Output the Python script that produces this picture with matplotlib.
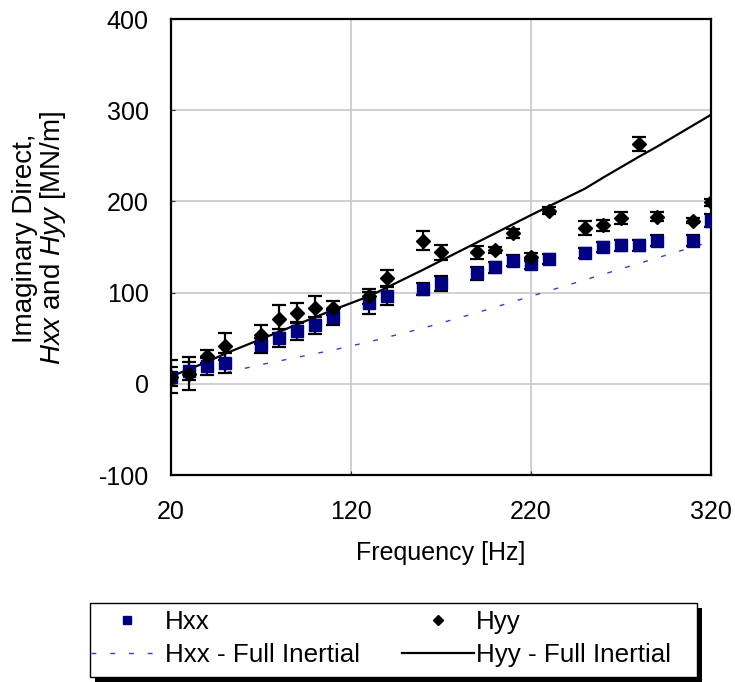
import matplotlib
matplotlib.use("Agg")
import matplotlib.pyplot as plt
from matplotlib.patches import Rectangle

plt.rcParams['font.family'] = ['Liberation Sans', 'DejaVu Sans']
plt.rcParams['mathtext.fontset'] = 'custom'
plt.rcParams['mathtext.rm'] = 'Liberation Sans'
plt.rcParams['mathtext.it'] = 'Liberation Sans:italic'
plt.rcParams['axes.unicode_minus'] = False

# Measured data
freq = [20, 30, 40, 50, 70, 80, 90, 100, 110, 130, 140, 160, 170, 190, 200,
        210, 220, 230, 250, 260, 270, 280, 290, 310, 320]
hxx = [8, 14, 19, 23, 42, 50, 58, 64, 73, 89, 96, 104, 110, 121, 128,
       135, 131, 137, 143, 150, 152, 152, 157, 157, 179]
hxx_err = [10, 10, 9, 11, 8, 10, 10, 9, 8, 12, 10, 7, 8, 7, 6,
           6, 5.5, 5.5, 5.5, 6, 6, 6, 6, 6, 7]
hyy = [8, 11, 30, 41, 54, 71, 78, 83, 83, 96, 116, 157, 144, 144, 147,
       165, 139, 190, 171, 174, 182, 263, 183, 179, 199]
hyy_err = [18, 18, 7, 15, 10, 15, 11, 13, 8, 8, 9, 10, 8, 7, 3.5,
           5, 4, 4, 8, 6, 6.5, 8, 5, 2.7, 4]

# Full inertial model curves
fi_freq = [20, 40, 50, 70, 80, 100, 110, 130, 160, 190, 220, 250, 260, 280, 290, 320]
hxx_fi = [3, 9, 12, 21, 25, 33, 37, 46, 61, 78, 96, 114, 120, 132, 138, 156]
hyy_fi = [8, 24, 33, 49, 57, 73, 81, 96, 125, 155, 185, 214, 226, 249, 260, 295]

xticks = [20, 120, 220, 320]
yticks = [-100, 0, 100, 200, 300, 400]

W, H = 735, 682
fig = plt.figure(figsize=(W/100, H/100), dpi=100)
ax = fig.add_axes([171/W, 1-475/H, (711-171)/W, (475-19)/H])

ax.plot(fi_freq, hxx_fi, linestyle=(0, (3.5, 10)), color='#3a3ad0', lw=1.0,
        label='Hxx - Full Inertial', zorder=2)
ax.plot(fi_freq, hyy_fi, color='black', lw=1.6, label='Hyy - Full Inertial', zorder=3)

ax.errorbar(freq, hxx, yerr=hxx_err, fmt='none', ecolor='black', elinewidth=1.6,
            capsize=4.7, capthick=1.6, zorder=4)
ax.errorbar(freq, hyy, yerr=hyy_err, fmt='none', ecolor='black', elinewidth=1.6,
            capsize=4.7, capthick=1.6, zorder=4)
ax.plot(freq, hxx, linestyle='none', marker='s', markersize=8, color='#000080',
        markeredgecolor='#000080', label='Hxx', zorder=5)
ax.plot(freq, hyy, linestyle='none', marker='D', markersize=7.5, color='black',
        label='Hyy', zorder=6)

ax.set_xlim(20, 320)
ax.set_ylim(-100, 400)
ax.set_xticks(xticks)
ax.set_yticks(yticks)
ax.tick_params(direction='in', length=3, labelsize=18, color='#333333')
ax.tick_params(axis='x', pad=18)
ax.tick_params(axis='y', pad=16)
ax.grid(True, color='#c8c8c8', lw=1.2)
ax.set_axisbelow(True)
for s in ax.spines.values():
    s.set_linewidth(1.6)
    s.set_color('black')

ax.set_xlabel('Frequency [Hz]', fontsize=18)
ax.xaxis.set_label_coords(0.5, -0.144)
ax.set_ylabel('Imaginary Direct,\n$\\mathit{Hxx}$ and $\\mathit{Hyy}$ [MN/m]',
              fontsize=20, linespacing=1.0)
ax.yaxis.set_label_coords(-0.19, 0.52)

# Legend: framed box drawn by hand (with solid offset shadow), entries placed inside
fx0, fx1, fy0, fy1 = 90, 697, 603, 677
fig.add_artist(Rectangle(((fx0 + 5)/W, 1 - (fy1 + 5)/H), (fx1 - fx0)/W, (fy1 - fy0)/H,
                         transform=fig.transFigure, facecolor='black',
                         edgecolor='none', zorder=8))
fig.add_artist(Rectangle((fx0/W, 1 - fy1/H), (fx1 - fx0)/W, (fy1 - fy0)/H,
                         transform=fig.transFigure, facecolor='white',
                         edgecolor='black', lw=1.0, zorder=9))

handles, labels = ax.get_legend_handles_labels()
order = [labels.index(l) for l in ['Hxx', 'Hxx - Full Inertial', 'Hyy', 'Hyy - Full Inertial']]
leg_fs = 18.7
leg = fig.legend([handles[i] for i in order], [labels[i] for i in order],
                 ncol=2, loc='upper left',
                 bbox_to_anchor=(91/W, 1 - 610/H),
                 fontsize=leg_fs, frameon=False,
                 borderaxespad=0, borderpad=0, handlelength=2.75, handletextpad=0.08,
                 labelspacing=0.35, columnspacing=1.65, markerscale=0.65)
leg.set_zorder(10)

fig.savefig('out.png', dpi=100)
